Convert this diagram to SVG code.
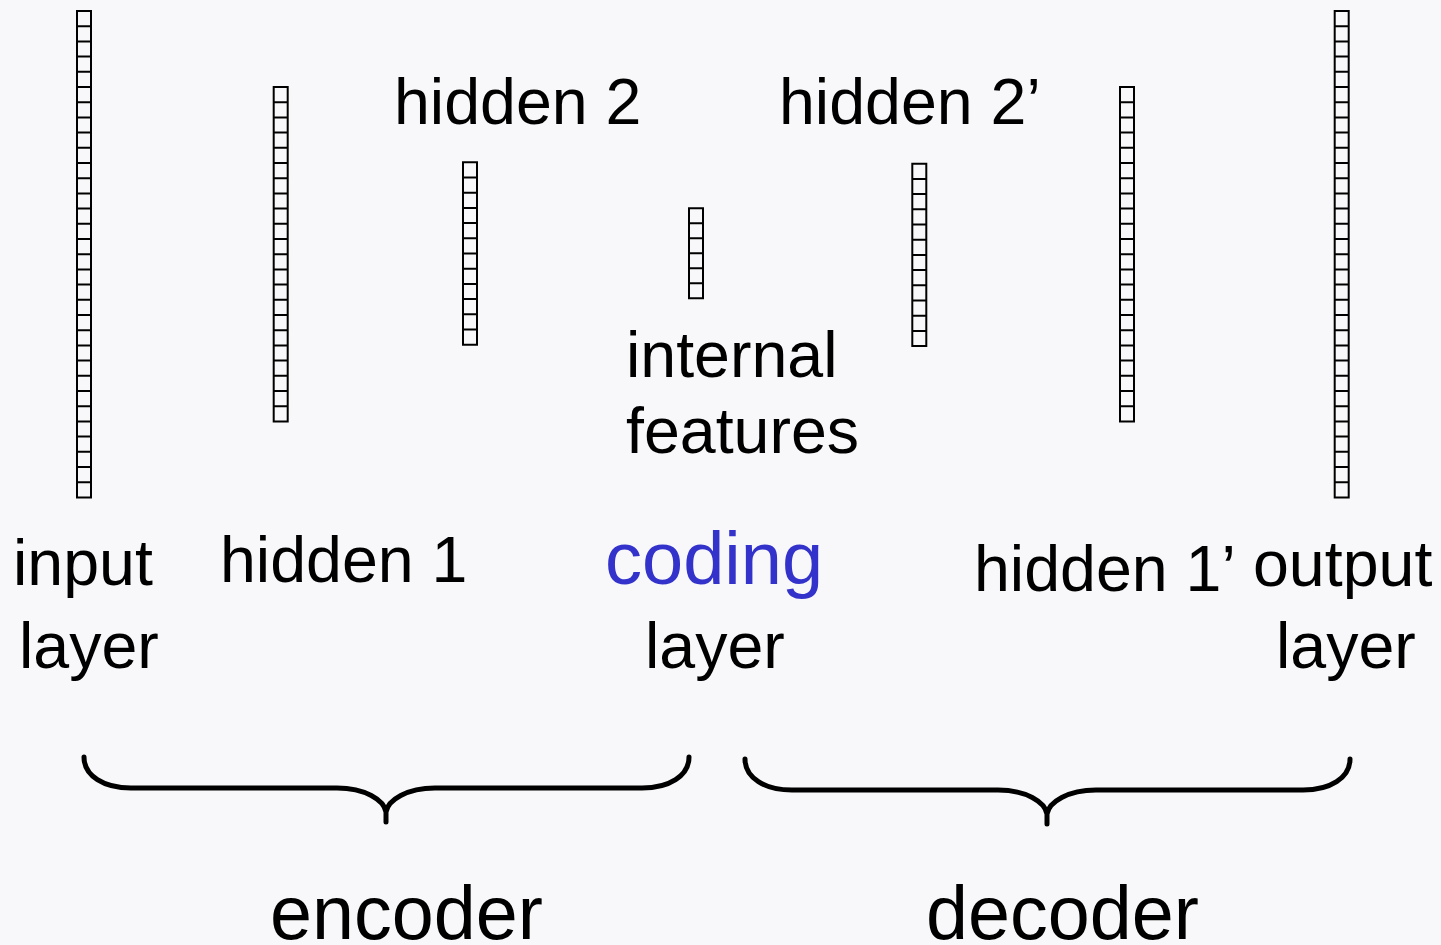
<svg xmlns="http://www.w3.org/2000/svg" width="1441" height="945" viewBox="0 0 1441 945">
<defs>
<style>
.bg{fill:#f8f8fa}
.col{fill:none;stroke:#000;stroke-width:2}
.lbl{font-family:"Liberation Sans",Arial,sans-serif;font-size:64.5px;fill:#000}
.big{font-size:75.5px}
.coding{font-size:74px;fill:#3333cc}
.brace{fill:none;stroke:#000;stroke-width:5;stroke-linecap:round;stroke-linejoin:round}
</style>
<path id="c32" d="M0 0h14v486.4h-14z M0 15.2h14 M0 30.4h14 M0 45.6h14 M0 60.8h14 M0 76h14 M0 91.2h14 M0 106.4h14 M0 121.6h14 M0 136.8h14 M0 152h14 M0 167.2h14 M0 182.4h14 M0 197.6h14 M0 212.8h14 M0 228h14 M0 243.2h14 M0 258.4h14 M0 273.6h14 M0 288.8h14 M0 304h14 M0 319.2h14 M0 334.4h14 M0 349.6h14 M0 364.8h14 M0 380h14 M0 395.2h14 M0 410.4h14 M0 425.6h14 M0 440.8h14 M0 456h14 M0 471.2h14"/>
<path id="c22" d="M0 0h14v334.4h-14z M0 15.2h14 M0 30.4h14 M0 45.6h14 M0 60.8h14 M0 76h14 M0 91.2h14 M0 106.4h14 M0 121.6h14 M0 136.8h14 M0 152h14 M0 167.2h14 M0 182.4h14 M0 197.6h14 M0 212.8h14 M0 228h14 M0 243.2h14 M0 258.4h14 M0 273.6h14 M0 288.8h14 M0 304h14 M0 319.2h14"/>
<path id="c12" d="M0 0h14v182.4h-14z M0 15.2h14 M0 30.4h14 M0 45.6h14 M0 60.8h14 M0 76h14 M0 91.2h14 M0 106.4h14 M0 121.6h14 M0 136.8h14 M0 152h14 M0 167.2h14"/>
<path id="c6" d="M0 0h14v90h-14z M0 15h14 M0 30h14 M0 45h14 M0 60h14 M0 75h14"/>
</defs>
<rect class="bg" x="0" y="0" width="1441" height="945"/>

<g id="input-layer">
<use href="#c32" class="col" x="77" y="11"/>
<text class="lbl" x="13" y="585">input</text>
<text class="lbl" x="19" y="668">layer</text>
</g>

<g id="hidden-1">
<use href="#c22" class="col" x="273.7" y="87"/>
<text class="lbl" x="220" y="582">hidden 1</text>
</g>

<g id="hidden-2">
<use href="#c12" class="col" x="463" y="162.3"/>
<text class="lbl" x="394" y="124">hidden 2</text>
</g>

<g id="coding-layer">
<use href="#c6" class="col" x="689" y="208.3"/>
<text class="lbl" x="626" y="377">internal</text>
<text class="lbl" x="626" y="453">features</text>
<text class="lbl coding" x="605" y="584">coding</text>
<text class="lbl" x="645" y="668">layer</text>
</g>

<g id="hidden-2-prime">
<use href="#c12" class="col" x="912.3" y="163.7"/>
<text class="lbl" x="779" y="124">hidden 2’</text>
</g>

<g id="hidden-1-prime">
<use href="#c22" class="col" x="1120" y="87"/>
<text class="lbl" x="974" y="591">hidden 1’</text>
</g>

<g id="output-layer">
<use href="#c32" class="col" x="1334.7" y="11"/>
<text class="lbl" x="1253" y="586">output</text>
<text class="lbl" x="1276" y="668">layer</text>
</g>

<g id="connectors">
<g id="encoder">
<path class="brace" d="M84 757 C84 776 104 788 131 788 L337 788 C365 788 384 800 386 812 C388 800 407 788 435 788 L642 788 C669 788 689 776 689 757 M386 808 L386 822"/>
<text class="lbl big" x="270" y="939">encoder</text>
</g>
<g id="decoder">
<path class="brace" d="M745 759 C745 778 765 790 792 790 L998 790 C1026 790 1045 802 1047 814 C1049 802 1068 790 1096 790 L1303 790 C1330 790 1350 778 1350 759 M1047 810 L1047 824"/>
<text class="lbl big" x="926" y="939">decoder</text>
</g>
</g>
</svg>
